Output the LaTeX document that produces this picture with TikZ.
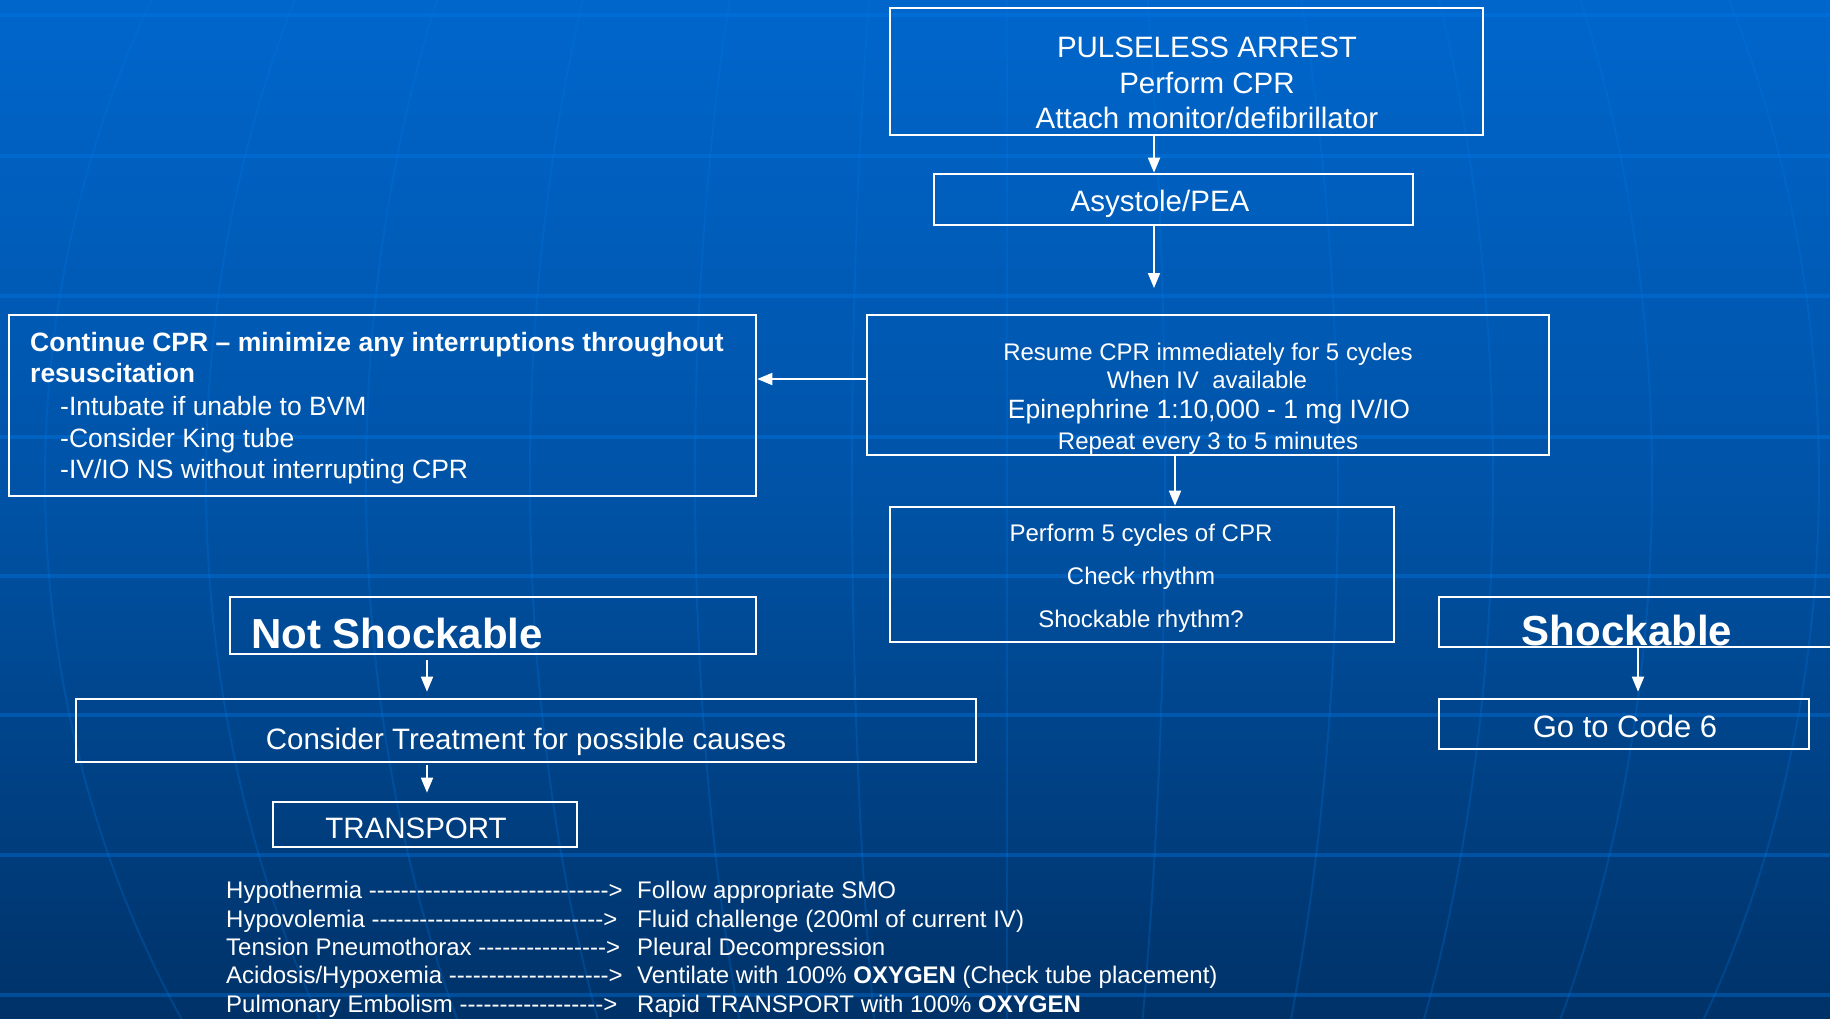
\documentclass[tikz,border=0pt]{standalone}
\usepackage{fontspec}
\setmainfont{Liberation Sans}
\usetikzlibrary{arrows.meta}
\definecolor{bgtop}{RGB}{0,102,204}
\definecolor{bgmid}{RGB}{0,82,165}
\definecolor{bgbot}{RGB}{0,50,104}
\definecolor{gridc}{RGB}{0,120,230}
\newcommand\fsz[1]{\fontsize{#1}{#1}\selectfont}
\newcommand\dashrun[1]{\foreach\ii in {1,...,#1}{\hbox{-}}}
\begin{document}
\begin{tikzpicture}[x=1pt,y=-1pt,
  box/.style={draw=white, line width=2.6pt, inner sep=0pt, rectangle},
  arr/.style={draw=white, line width=1.8pt, -{Triangle[length=15pt,width=12pt]}},
  txt/.style={text=white, inner sep=0pt, anchor=base},
  txtl/.style={text=white, inner sep=0pt, anchor=base west},
  hline/.style={draw=gridc, opacity=0.38, line width=4pt},
  mline/.style={draw=gridc, opacity=0.25, line width=2pt}]
\useasboundingbox (0,0) rectangle (1830,1018);
\clip (0,0) rectangle (1830,1018);
\shade[top color=bgtop, bottom color=bgbot, middle color=bgmid] (0,0) rectangle (1830,1018);
% globe meridians
\foreach \mm in {-962,-801,-641,-477,-312,-155,0,158,331,486,645,812,980}
  \draw[mline] plot[smooth, domain=-20:1040, samples=30, variable=\yy] ({1007+\mm*sqrt(1-((\yy-480)/1050)^2)}, \yy);
% horizontal lines
\foreach \yy in {15,156,296,437,576,715,855,995}
  \draw[hline] (0,\yy) -- (1830,\yy);

% boxes
\node[box, minimum width=593pt, minimum height=127pt] (arrest) at (1186.5,71.5) {};
\node[box, minimum width=479pt, minimum height=51pt] (asys) at (1173.5,199.5) {};
\node[box, minimum width=682pt, minimum height=140pt] (resume) at (1208,385) {};
\node[box, minimum width=504pt, minimum height=135pt] (cycles) at (1142,574.5) {};
\node[box, minimum width=747pt, minimum height=181pt] (cont) at (382.5,405.5) {};
\node[box, minimum width=526pt, minimum height=57pt] (notshock) at (493,625.5) {};
\node[box, minimum width=900pt, minimum height=63pt] (treat) at (526,730.5) {};
\node[box, minimum width=304pt, minimum height=45pt] (transp) at (425,824.5) {};
\node[box, minimum width=420pt, minimum height=50pt] (shock) at (1649,622) {};
\node[box, minimum width=370pt, minimum height=50pt] (code6) at (1624,724) {};

% texts
\node[txt, font=\fsz{29.5}] (t1) at (1207,57) {PULSELESS ARREST};
\node[txt, font=\fsz{29.5}] (t2) at (1207,93) {Perform CPR};
\node[txt, font=\fsz{29.5}] (t3) at (1207,128) {Attach monitor/defibrillator};
\node[txt, font=\fsz{29.5}] (t4) at (1160,211) {Asystole/PEA};
\node[txt, font=\fsz{24}] (t5) at (1208,360) {Resume CPR immediately for 5 cycles};
\node[txt, font=\fsz{24}] (t6) at (1207,388) {When IV\ \ available};
\node[txt, font=\fsz{26.5}] (t7) at (1209,418) {Epinephrine 1:10,000 - 1 mg IV/IO};
\node[txt, font=\fsz{24}] (t8) at (1208,449) {Repeat every 3 to 5 minutes};
\node[txt, font=\fsz{24}] (t9) at (1141,541) {Perform 5 cycles of CPR};
\node[txt, font=\fsz{24}] (t10) at (1141,584) {Check rhythm};
\node[txt, font=\fsz{24}] (t11) at (1141,627) {Shockable rhythm?};
\node[txtl, font=\fsz{26.5}\bfseries] (t12) at (30,351) {Continue CPR – minimize any interruptions throughout};
\node[txtl, font=\fsz{26.5}\bfseries] (t13) at (30,382) {resuscitation};
\node[txtl, font=\fsz{26.5}] (t14) at (60,415) {-Intubate if unable to BVM};
\node[txtl, font=\fsz{26.5}] (t15) at (60,447) {-Consider King tube};
\node[txtl, font=\fsz{26.5}] (t16) at (60,478) {-IV/IO NS without interrupting CPR};
\node[txtl, font=\fsz{42}\bfseries] (t17) at (251,648) {Not Shockable};
\node[txt, font=\fsz{29.5}] (t18) at (526,749) {Consider Treatment for possible causes};
\node[txt, font=\fsz{29.5}] (t19) at (416,838) {TRANSPORT};
\node[txt, font=\fsz{42}\bfseries] (t20) at (1627,645) {Shockable};
\node[txt, font=\fsz{31}] (t21) at (1625,737) {Go to Code 6};

% causes list
\node[txtl, font=\fsz{24}] (c1) at (226,898) {Hypothermia \dashrun{30}>};
\node[txtl, font=\fsz{24}] (c2) at (226,927) {Hypovolemia \dashrun{29}>};
\node[txtl, font=\fsz{24}] (c3) at (226,955) {Tension Pneumothorax \dashrun{16}>};
\node[txtl, font=\fsz{24}] (c4) at (226,983) {Acidosis/Hypoxemia \dashrun{20}>};
\node[txtl, font=\fsz{24}] (c5) at (226,1012) {Pulmonary Embolism \dashrun{18}>};
\node[txtl, font=\fsz{24}] (r1) at (637,898) {Follow appropriate SMO};
\node[txtl, font=\fsz{24}] (r2) at (637,927) {Fluid challenge (200ml of current IV)};
\node[txtl, font=\fsz{24}] (r3) at (637,955) {Pleural Decompression};
\node[txtl, font=\fsz{24}] (r4) at (637,983) {Ventilate with 100\% \textbf{OXYGEN} (Check tube placement)};
\node[txtl, font=\fsz{24}] (r5) at (637,1012) {Rapid TRANSPORT with 100\% \textbf{OXYGEN}};

% connectors
\coordinate (xab) at (1154,0);
\coordinate (bcend) at (1154,288);
\coordinate (xcd) at (1175,0);
\coordinate (yce) at (0,379);
\coordinate (xfg) at (427,0);
\coordinate (xij) at (1638,0);
\draw[arr] (arrest.south -| xab) -- (asys.north -| xab);
\draw[arr] (asys.south -| xab) -- (bcend);
\draw[arr] (resume.south -| xcd) -- (cycles.north -| xcd);
\draw[arr] (resume.west |- yce) -- (cont.east |- yce);
\draw[arr, shorten <=5pt, shorten >=6pt] (notshock.south -| xfg) -- (treat.north -| xfg);
\draw[arr, shorten <=2pt, shorten >=8pt] (treat.south -| xfg) -- (transp.north -| xfg);
\draw[arr, shorten >=6pt] (shock.south -| xij) -- (code6.north -| xij);
\end{tikzpicture}
\end{document}
